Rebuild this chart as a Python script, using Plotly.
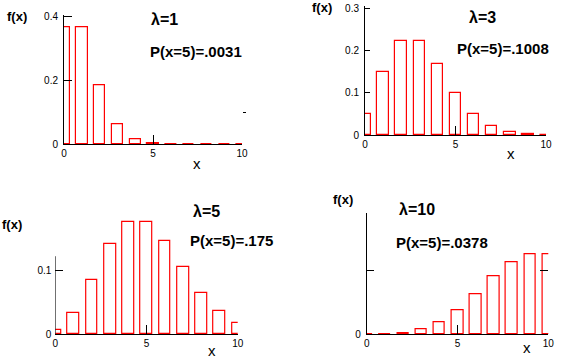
import plotly.graph_objects as go

W, H = 581, 362

# ---- data ----
x_vals = [0, 1, 2, 3, 4, 5, 6, 7, 8, 9, 10]
f_lam1 = [0.3679, 0.3679, 0.1839, 0.0613, 0.0153, 0.0031, 0.0005, 0.0001, 0.0, 0.0, 0.0]
f_lam3 = [0.0498, 0.1494, 0.2240, 0.2240, 0.1680, 0.1008, 0.0504, 0.0216, 0.0081, 0.0027, 0.0008]
f_lam5 = [0.0067, 0.0337, 0.0842, 0.1404, 0.1755, 0.1755, 0.1462, 0.1044, 0.0653, 0.0363, 0.0181]
f_lam10 = [0.0000, 0.0005, 0.0023, 0.0076, 0.0189, 0.0378, 0.0631, 0.0901, 0.1126, 0.1251, 0.1251]
lam_labels = ["λ=1", "λ=3", "λ=5", "λ=10"]
p5_labels = ["P(x=5)=.0031", "P(x=5)=.1008", "P(x=5)=.175", "P(x=5)=.0378"]
x_tickvals = [0, 5, 10]
x_ticktext = ["0", "5", "10"]
y_tickvals = [[0, 0.2, 0.4], [0, 0.1, 0.2, 0.3], [0, 0.1], [0, 0.1]]
y_ticktext = [["0", "0.2", "0.4"], ["0", "0.1", "0.2", "0.3"], ["0", "0.1"], ["0", ""]]
series = [f_lam1, f_lam3, f_lam5, f_lam10]

# ---- layout geometry (pixels) ----
panels = [
    dict(left=64, right=242, bottom=144, top=15.3, ymax=0.404, ylen=8, axis_top=None,
         fx=(17, 16), xl=(197, 163), lam=(164, 19), p5=(195.5, 52),
         rtick=("outside", 3)),
    dict(left=365, right=546, bottom=135, top=6, ymax=0.307, ylen=5, axis_top=None,
         fx=(322, 8), xl=(511, 153), lam=(482, 18), p5=(503, 48.5),
         rtick=None),
    dict(left=55.3, right=237.7, bottom=334.3, top=215, ymax=0.1864, ylen=8, axis_top=0.122,
         fx=(12, 224), xl=(212, 350), lam=(206, 211), p5=(231, 240),
         rtick=None),
    dict(left=366.7, right=548.3, bottom=334.3, top=213.3, ymax=0.189, ylen=7, axis_top=None,
         fx=(343, 199), xl=(527, 347), lam=(417, 209), p5=(441.5, 242.5),
         rtick=("inside", 8)),
]

FONT = "Arial, Liberation Sans, sans-serif"
fig = go.Figure()
layout = dict(width=W, height=H,
              margin=dict(l=0, r=0, t=0, b=0, pad=0, autoexpand=False),
              paper_bgcolor="white", plot_bgcolor="white", showlegend=False,
              bargap=0)
annotations = []
shapes = []

def px(x):
    return x / W

def py(y):
    return 1 - y / H

extra = 5
for i, (pn, ys) in enumerate(zip(panels, series)):
    n = i + 1
    xa = "xaxis" if n == 1 else f"xaxis{n}"
    ya = "yaxis" if n == 1 else f"yaxis{n}"
    xr = "x" if n == 1 else f"x{n}"
    yr = "y" if n == 1 else f"y{n}"
    fig.add_trace(go.Bar(x=x_vals, y=ys, width=0.64, xaxis=xr, yaxis=yr,
                         marker=dict(color="rgba(0,0,0,0)",
                                     line=dict(color="#ff0000", width=1.2))))
    layout[xa] = dict(domain=[px(pn["left"]), px(pn["right"])], range=[0, 10],
                      anchor=yr, tickvals=x_tickvals, ticktext=x_ticktext,
                      ticks="", showgrid=False, zeroline=False, automargin=False,
                      showline=True, linecolor="black", linewidth=1,
                      tickfont=dict(family=FONT, size=10, color="black"),
                      fixedrange=True)
    layout[ya] = dict(domain=[py(pn["bottom"]), py(pn["top"])], range=[0, pn["ymax"]],
                      anchor=xr, tickvals=y_tickvals[i], ticktext=y_ticktext[i],
                      ticks="inside", ticklen=pn["ylen"], tickcolor="black", tickwidth=1,
                      showgrid=False, zeroline=False, automargin=False,
                      showline=pn["axis_top"] is None, linecolor="black", linewidth=1,
                      tickfont=dict(family=FONT, size=10, color="black"),
                      ticklabelstandoff=3, fixedrange=True)
    # x=5 marker tick (overlay x axis)
    xo = f"xaxis{extra}"
    xor = f"x{extra}"
    layout[xo] = dict(overlaying=xr, anchor=yr, range=[0, 10], tickvals=[5],
                      ticks="inside", ticklen=9, tickcolor="black", tickwidth=1,
                      showticklabels=False, showgrid=False, zeroline=False,
                      showline=False, automargin=False, fixedrange=True)
    fig.add_trace(go.Scatter(x=[5], y=[0], mode="none", xaxis=xor, yaxis=yr,
                             hoverinfo="skip"))
    extra += 1
    if pn["rtick"] is not None:
        yo = f"yaxis{extra}"
        yor = f"y{extra}"
        layout[yo] = dict(overlaying=yr, anchor=xr, side="right", range=[0, pn["ymax"]],
                          tickvals=[0.1], ticks=pn["rtick"][0], ticklen=pn["rtick"][1],
                          tickcolor="black", tickwidth=1, showticklabels=False,
                          showgrid=False, zeroline=False, showline=False,
                          automargin=False, fixedrange=True)
        fig.add_trace(go.Scatter(x=[5], y=[0], mode="none", xaxis=xr, yaxis=yor,
                                 hoverinfo="skip"))
        extra += 1
    if pn["axis_top"] is not None:
        shapes.append(dict(type="line", xref=xr, yref=yr, x0=0, x1=0, y0=0,
                           y1=pn["axis_top"], line=dict(color="black", width=1),
                           layer="above"))
    # texts
    annotations.append(dict(text="<b>f(x)</b>", x=px(pn["fx"][0]), y=py(pn["fx"][1]),
                            xref="paper", yref="paper", showarrow=False,
                            xanchor="center", yanchor="middle",
                            font=dict(family=FONT, size=13, color="black")))
    annotations.append(dict(text="x", x=px(pn["xl"][0]), y=py(pn["xl"][1]),
                            xref="paper", yref="paper", showarrow=False,
                            xanchor="center", yanchor="middle",
                            font=dict(family=FONT, size=15, color="black")))
    annotations.append(dict(text=f"<b>{lam_labels[i]}</b>", x=px(pn["lam"][0]),
                            y=py(pn["lam"][1]), xref="paper", yref="paper",
                            showarrow=False, xanchor="center", yanchor="middle",
                            font=dict(family=FONT, size=16, color="black")))
    annotations.append(dict(text=f"<b>{p5_labels[i]}</b>", x=px(pn["p5"][0]),
                            y=py(pn["p5"][1]), xref="paper", yref="paper",
                            showarrow=False, xanchor="center", yanchor="middle",
                            font=dict(family=FONT, size=15, color="black")))

layout["annotations"] = annotations
layout["shapes"] = shapes
fig.update_layout(**layout)
fig.write_html("out.html", config={"displayModeBar": False},
               post_script="document.body.style.margin='0px';document.body.style.padding='0px';")
